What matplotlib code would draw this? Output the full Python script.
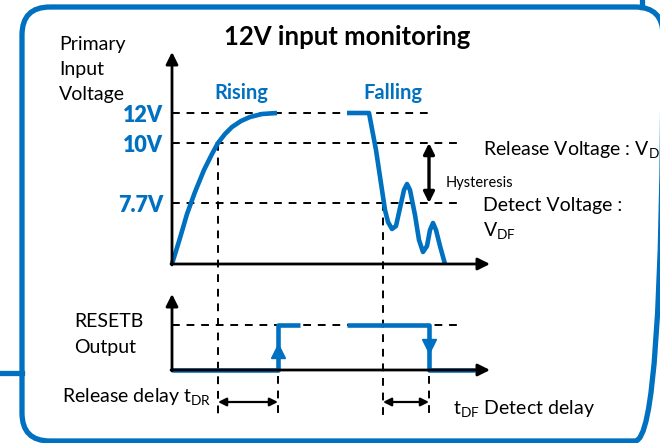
import matplotlib
matplotlib.use("Agg")
import matplotlib.pyplot as plt
from matplotlib.patches import FancyBboxPatch

plt.rcParams['font.family'] = ['Lato', 'DejaVu Sans']
plt.rcParams['mathtext.fontset'] = 'custom'
plt.rcParams['mathtext.rm'] = 'Lato'

BLUE = '#0070C0'

# schematic coordinates (pixels, y grows downward)
origin_x = 172
upper_base = 264
lower_base = 370
lower_high = 325

level_names = ['12V', '10V', '7.7V']
level_y = [113, 143, 203]
level_dash_end = [428, 460, 460]

rise_x = [172, 180, 187, 195, 204, 212, 218, 225, 232, 241, 250, 262, 277]
rise_y = [264, 238, 214, 192, 170, 154, 143, 134, 127, 121, 117, 114, 113]

fall_x = [347, 369, 376, 382, 385, 388, 392, 396, 400, 404, 407, 410, 415,
          419, 423, 427, 430, 433, 436, 440, 445]
fall_y = [113, 113, 150, 190, 210, 222, 229, 226, 208, 190, 184, 190, 215,
          240, 252, 246, 230, 223, 230, 246, 264]

reset1_x = [172, 278, 278, 300]
reset1_y = [370, 370, 325, 325]
reset2_x = [347, 429, 429, 475]
reset2_y = [325, 325, 370, 370]

t_release = 218   # rising input crosses 10V
t_out_up = 278    # RESETB goes high
t_detect = 383    # falling input crosses 7.7V
t_out_down = 429  # RESETB goes low

fig = plt.figure(figsize=(6.6, 4.43), dpi=100)
ax = fig.add_axes([0, 0, 1, 1])
ax.set_xlim(0, 660)
ax.set_ylim(443, 0)
ax.axis('off')

# frame
box = FancyBboxPatch((22, 7), 641, 434, boxstyle='round,pad=0,rounding_size=28',
                     fc='none', ec=BLUE, lw=3.8)
ax.add_patch(box)
ax.plot([0, 22], [373, 373], color=BLUE, lw=3.8)
ax.plot([642, 642], [0, 7], color=BLUE, lw=3.8)

ax.text(347, 45, '12V input monitoring', fontsize=18.5, fontweight='bold',
        ha='center', va='baseline')

# axes of the upper panel
ax.annotate('', xy=(origin_x, 52), xytext=(origin_x, upper_base + 1),
            arrowprops=dict(arrowstyle='-|>', lw=2, color='k', mutation_scale=18,
                            shrinkA=0, shrinkB=0))
ax.annotate('', xy=(490, upper_base), xytext=(origin_x - 1, upper_base),
            arrowprops=dict(arrowstyle='-|>', lw=2, color='k', mutation_scale=18,
                            shrinkA=0, shrinkB=0))
# axes of the lower panel
ax.annotate('', xy=(origin_x, 294), xytext=(origin_x, lower_base + 1),
            arrowprops=dict(arrowstyle='-|>', lw=2, color='k', mutation_scale=18,
                            shrinkA=0, shrinkB=0))
ax.annotate('', xy=(490, lower_base), xytext=(origin_x - 1, lower_base),
            arrowprops=dict(arrowstyle='-|>', lw=2, color='k', mutation_scale=18,
                            shrinkA=0, shrinkB=0))

dash = dict(color='k', lw=1.4, dashes=(4, 3.5))
for name, y, xe in zip(level_names, level_y, level_dash_end):
    ax.plot([origin_x, xe], [y, y], **dash)
    ax.text(163, y + 9, name, color=BLUE, fontsize=15.5, fontweight='heavy',
            ha='right', va='baseline')
ax.plot([origin_x, 460], [lower_high, lower_high], **dash)

ax.plot([t_release, t_release], [level_y[1], 415], **dash)
ax.plot([t_detect, t_detect], [level_y[2], 415], **dash)
ax.plot([t_out_up, t_out_up], [376, 415], **dash)
ax.plot([t_out_down, t_out_down], [376, 415], **dash)

# waveforms
ax.plot(rise_x, rise_y, color=BLUE, lw=3.3, solid_capstyle='butt')
ax.plot(fall_x, fall_y, color=BLUE, lw=3.3, solid_capstyle='butt',
        solid_joinstyle='round')
ax.plot(reset1_x, reset1_y, color=BLUE, lw=3.3, solid_capstyle='butt')
ax.plot(reset2_x, reset2_y, color=BLUE, lw=3.3, solid_capstyle='butt')
ax.plot([t_out_up], [351], marker='^', ms=10, color=BLUE)
ax.plot([t_out_down], [346], marker='v', ms=10, color=BLUE)

# hysteresis and delay arrows
ax.annotate('', xy=(t_out_down, level_y[1]), xytext=(t_out_down, level_y[2]),
            arrowprops=dict(arrowstyle='<|-|>', lw=2.4, color='k', mutation_scale=16,
                            shrinkA=0, shrinkB=0))
ax.annotate('', xy=(t_release, 402), xytext=(t_out_up, 402),
            arrowprops=dict(arrowstyle='<|-|>', lw=1.6, color='k', mutation_scale=12,
                            shrinkA=0, shrinkB=0))
ax.annotate('', xy=(t_detect, 402), xytext=(t_out_down, 402),
            arrowprops=dict(arrowstyle='<|-|>', lw=1.6, color='k', mutation_scale=12,
                            shrinkA=0, shrinkB=0))

# labels
for txt, y in zip(['Primary', 'Input', 'Voltage'], [50, 75, 100]):
    ax.text(59, y, txt, fontsize=14, ha='left', va='baseline')
ax.text(214, 99, 'Rising', color=BLUE, fontsize=14.5, fontweight='bold', va='baseline')
ax.text(363, 99, 'Falling', color=BLUE, fontsize=14.5, fontweight='bold', va='baseline')
ax.text(483, 156, r'Release Voltage : V$_{\mathrm{DR}}$', fontsize=14, va='baseline')
ax.text(446, 187, 'Hysteresis', fontsize=10.5, va='baseline')
ax.text(483, 211, 'Detect Voltage :', fontsize=14, va='baseline')
ax.text(483, 237, r'V$_{\mathrm{DF}}$', fontsize=14, va='baseline')
ax.text(74, 327, 'RESETB', fontsize=14, va='baseline')
ax.text(74, 353, 'Output', fontsize=14, va='baseline')
ax.text(62, 403, r'Release delay t$_{\mathrm{DR}}$', fontsize=14, va='baseline')
ax.text(453, 415, r't$_{\mathrm{DF}}$ Detect delay', fontsize=14, va='baseline')

fig.savefig('out.png', dpi=100, facecolor='white')
